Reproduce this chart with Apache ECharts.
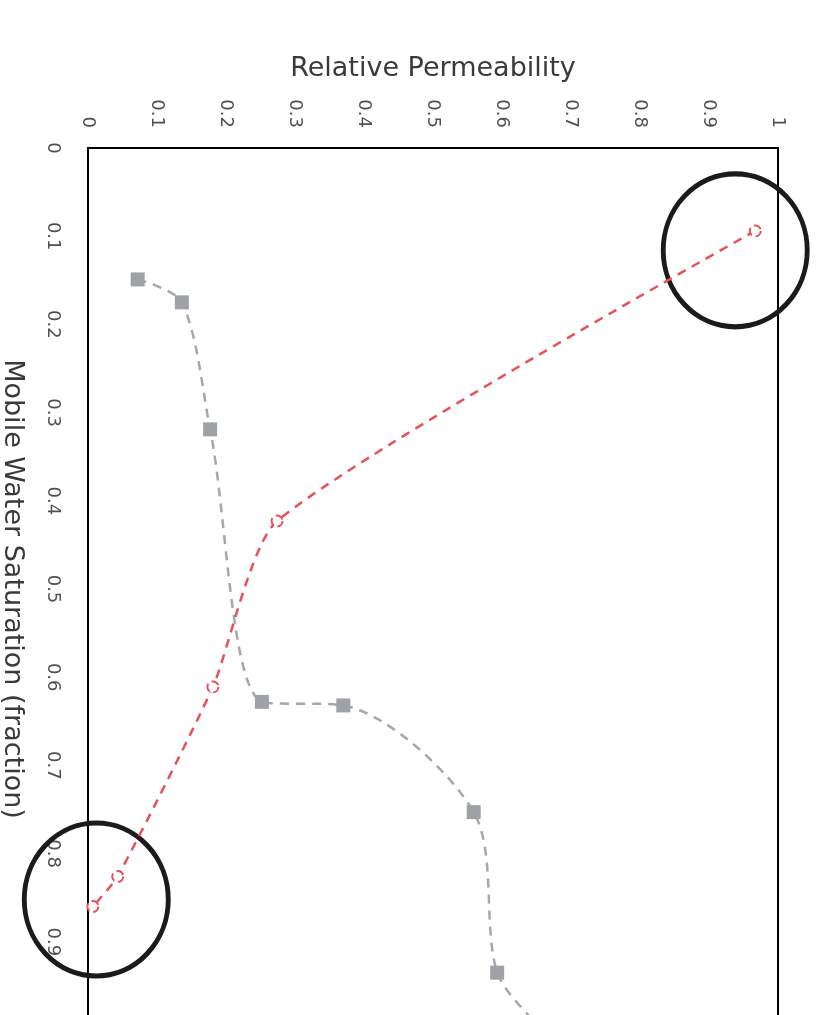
<!DOCTYPE html>
<html><head><meta charset="utf-8">
<script src="https://cdn.jsdelivr.net/npm/echarts@6/dist/echarts.min.js"></script>
<style>html,body{margin:0;padding:0;background:#fff}#c{width:823px;height:1015px}</style>
</head><body><div id="c"></div>
<script>
// Red series (oil relative permeability)
const redSat = [0.094, 0.423, 0.611, 0.826, 0.860];
const redPerm = [0.967, 0.274, 0.181, 0.043, 0.007];
// Grey series (water relative permeability)
const greySat = [0.149, 0.175, 0.319, 0.628, 0.632, 0.753, 0.935, 1.0];
const greyPerm = [0.072, 0.136, 0.177, 0.252, 0.370, 0.559, 0.593, 0.66];
// Annotation ellipses (centers)
const circleSat = [0.116, 0.852];
const circlePerm = [0.938, 0.012];

const xTitle = 'Relative Permeability';
const yTitle = 'Mobile Water Saturation (fraction)';

const font = 'DejaVu Sans';
const chart = echarts.init(document.getElementById('c'), null, {renderer: 'canvas'});
chart.setOption({
  animation: false,
  backgroundColor: '#fff',
  grid: {left: 88, top: 148, width: 690, height: 882, show: true, borderColor: '#000', borderWidth: 2,
         containLabel: false, outerBoundsMode: 'none'},
  xAxis: {
    type: 'value', position: 'top', min: 0, max: 1, interval: 0.1,
    name: xTitle, nameLocation: 'middle', nameGap: 66,
    nameTextStyle: {fontFamily: font, fontSize: 27, color: '#3a3a3a'},
    axisLine: {show: true, lineStyle: {color: '#000', width: 2}},
    axisTick: {show: false}, splitLine: {show: false},
    axisLabel: {rotate: -90, margin: 20, fontFamily: font, fontSize: 18, color: '#505050'}
  },
  yAxis: {
    type: 'value', inverse: true, min: 0, max: 1, interval: 0.1,
    name: yTitle, nameLocation: 'middle', nameGap: 62, nameRotate: -90,
    nameTextStyle: {fontFamily: font, fontSize: 27, color: '#3a3a3a'},
    axisLine: {show: true, lineStyle: {color: '#000', width: 2}},
    axisTick: {show: false}, splitLine: {show: false},
    axisLabel: {rotate: -90, margin: 26, fontFamily: font, fontSize: 18, color: '#505050'}
  },
  series: [
    {
      type: 'line', smooth: 0.3,
      data: greyPerm.map((p, i) => [p, greySat[i]]),
      symbol: 'rect', symbolSize: 14,
      itemStyle: {color: '#9EA2A6'},
      lineStyle: {color: '#A5A8AB', width: 2.5, type: [9, 7]}
    },
    {
      type: 'line', smooth: 0.2,
      data: redPerm.map((p, i) => [p, redSat[i]]),
      symbol: 'emptyCircle', symbolSize: 11,
      itemStyle: {color: '#E8505A', borderColor: '#E8505A', borderWidth: 2, borderType: 'dashed'},
      lineStyle: {color: '#E8505A', width: 2.5, type: [9, 7]}
    },
    {
      type: 'scatter', clip: false, silent: true,
      data: circlePerm.map((p, i) => [p, circleSat[i]]),
      symbol: 'circle', symbolSize: [144, 153],
      itemStyle: {color: 'rgba(0,0,0,0)', borderColor: '#1E1A1B', borderWidth: 5, opacity: 1}
    }
  ]
});
</script></body></html>
